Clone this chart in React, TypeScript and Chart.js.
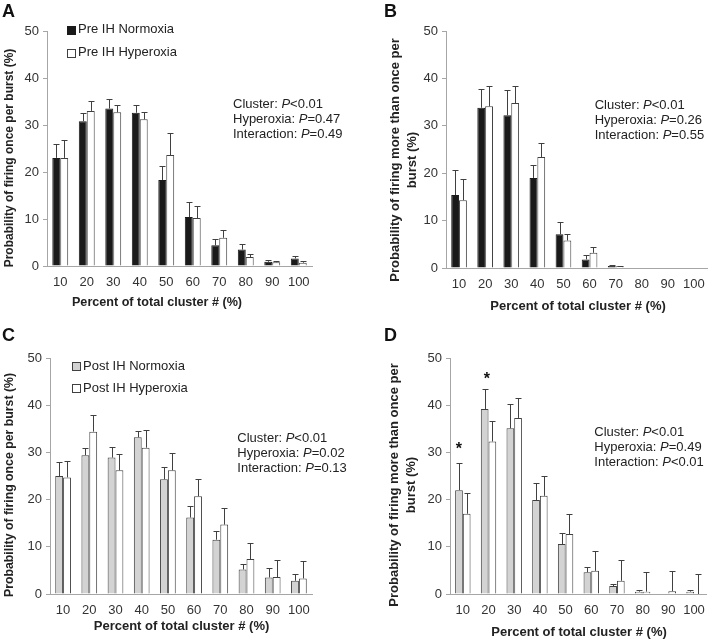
import React, { useEffect, useRef } from "react";
import { Chart, registerables } from "chart.js";

Chart.register(...registerables);

// ---------- data ----------
const categories = ["10", "20", "30", "40", "50", "60", "70", "80", "90", "100"];

// Panel A: probability of firing once per burst (pre IH)
const aNormoxia = [23.0, 30.8, 33.5, 32.6, 18.3, 10.4, 4.4, 3.5, 0.9, 1.6];
const aNormoxiaErr = [3.0, 1.8, 2.1, 1.7, 3.0, 3.2, 1.3, 1.2, 0.4, 0.5];
const aHyperoxia = [23.0, 33.0, 32.7, 31.2, 23.6, 10.2, 6.0, 1.9, 0.8, 0.7];
const aHyperoxiaErr = [3.8, 2.1, 1.5, 1.6, 4.6, 2.5, 1.6, 0.6, 0.3, 0.4];

// Panel B: probability of firing more than once per burst (pre IH)
const bNormoxia = [15.4, 33.8, 32.2, 19.0, 7.1, 1.8, 0.4, 0, 0, 0];
const bNormoxiaErr = [5.2, 3.9, 5.3, 2.8, 2.7, 0.9, 0.2, 0, 0, 0];
const bHyperoxia = [14.3, 34.1, 34.8, 23.4, 5.8, 3.2, 0.35, 0, 0, 0];
const bHyperoxiaErr = [4.4, 4.4, 3.7, 2.9, 1.3, 1.2, 0.15, 0, 0, 0];

// Panel C: probability of firing once per burst (post IH)
const cNormoxia = [25.0, 29.4, 28.9, 33.2, 24.3, 16.2, 11.5, 5.2, 3.5, 2.8];
const cNormoxiaErr = [2.9, 1.6, 2.2, 1.3, 2.6, 2.5, 1.9, 1.2, 2.0, 1.4];
const cHyperoxia = [24.7, 34.4, 26.2, 31.0, 26.2, 20.7, 14.7, 7.4, 3.6, 3.3];
const cHyperoxiaErr = [3.4, 3.5, 3.5, 3.7, 3.6, 3.6, 3.6, 3.5, 3.6, 3.6];

// Panel D: probability of firing more than once per burst (post IH)
const dNormoxia = [22.0, 39.2, 35.1, 19.9, 10.6, 4.6, 1.7, 0.5, 0, 0.5];
const dNormoxiaErr = [5.7, 4.3, 5.1, 3.6, 2.3, 1.1, 0.5, 0.3, 0, 0.3];
const dHyperoxia = [17.0, 32.3, 37.3, 20.8, 12.7, 4.9, 2.8, 0.5, 0.6, 0];
const dHyperoxiaErr = [4.3, 4.4, 4.2, 4.3, 4.2, 4.3, 4.3, 4.2, 4.3, 4.3];
const dAsteriskIndex = [0, 1];
const dAsteriskValue = [31.2, 46.1];

const yTicks = [0, 10, 20, 30, 40, 50];
const statLabels = ["Cluster: ", "Hyperoxia: ", "Interaction: "];
const statsA = ["<0.01", "=0.47", "=0.49"];
const statsB = ["<0.01", "=0.26", "=0.55"];
const statsC = ["<0.01", "=0.02", "=0.13"];
const statsD = ["<0.01", "=0.49", "<0.01"];

const xTitle = "Percent of total cluster # (%)";
const yTitleOnce = ["Probability of firing once per burst (%)"];
const yTitleMore = ["Probability of firing more than once per", "burst (%)"];

// ---------- styles ----------
const FONT = '"Liberation Sans", Arial, Helvetica, sans-serif';
const TEXT = "#222222";
const AXIS = "#a6a6a6";
const EDGE = "#404040";
const BLACK = "#1a1a1a";
const GRAY = "#d3d3d3";

type Panel = {
  letter: string;
  cx: number; cy: number; w: number; h: number;
  area: { l: number; t: number; r: number; b: number };
  series: { label: string; data: number[]; err: number[]; fill: string; border: string }[];
  legend: { x: number; y: number; dy: number } | null;
  stats: string[];
  statsPos: { x: number; y: number };
  yTitle: string[];
  yTitlePos: { x: number; y: number; dx: number; size: number };
  xTitlePos: { x: number; y: number; size: number };
  letterPos: { x: number; y: number };
  asterisks?: { idx: number[]; val: number[]; dx: number[] };
};

const panels: Panel[] = [
  {
    letter: "A", cx: 0, cy: 0, w: 357, h: 320,
    area: { l: 47, t: 31, r: 312, b: 266 },
    series: [
      { label: "Pre IH Normoxia", data: aNormoxia, err: aNormoxiaErr, fill: BLACK, border: BLACK },
      { label: "Pre IH Hyperoxia", data: aHyperoxia, err: aHyperoxiaErr, fill: "#ffffff", border: EDGE },
    ],
    legend: { x: 67, y: 29.7, dy: 23 },
    stats: statsA, statsPos: { x: 233, y: 104 },
    yTitle: yTitleOnce, yTitlePos: { x: 10, y: 158, dx: 17, size: 12 },
    xTitlePos: { x: 157, y: 303, size: 12.6 },
    letterPos: { x: 2, y: 12 },
  },
  {
    letter: "B", cx: 357, cy: 0, w: 357, h: 320,
    area: { l: 89, t: 31, r: 353, b: 268 },
    series: [
      { label: "Pre IH Normoxia", data: bNormoxia, err: bNormoxiaErr, fill: BLACK, border: BLACK },
      { label: "Pre IH Hyperoxia", data: bHyperoxia, err: bHyperoxiaErr, fill: "#ffffff", border: EDGE },
    ],
    legend: null,
    stats: statsB, statsPos: { x: 237.7, y: 105.7 },
    yTitle: yTitleMore, yTitlePos: { x: 38, y: 160, dx: 17, size: 13 },
    xTitlePos: { x: 221, y: 306, size: 13 },
    letterPos: { x: 27, y: 12 },
  },
  {
    letter: "C", cx: 0, cy: 320, w: 357, h: 320,
    area: { l: 50, t: 38, r: 312, b: 274 },
    series: [
      { label: "Post IH Normoxia", data: cNormoxia, err: cNormoxiaErr, fill: GRAY, border: EDGE },
      { label: "Post IH Hyperoxia", data: cHyperoxia, err: cHyperoxiaErr, fill: "#ffffff", border: EDGE },
    ],
    legend: { x: 72, y: 46.3, dy: 22 },
    stats: statsC, statsPos: { x: 237.3, y: 118.3 },
    yTitle: yTitleOnce, yTitlePos: { x: 10, y: 165, dx: 17, size: 12.3 },
    xTitlePos: { x: 181.5, y: 306, size: 13 },
    letterPos: { x: 2, y: 16.5 },
  },
  {
    letter: "D", cx: 357, cy: 320, w: 357, h: 320,
    area: { l: 93, t: 38, r: 354, b: 274 },
    series: [
      { label: "Post IH Normoxia", data: dNormoxia, err: dNormoxiaErr, fill: GRAY, border: EDGE },
      { label: "Post IH Hyperoxia", data: dHyperoxia, err: dHyperoxiaErr, fill: "#ffffff", border: EDGE },
    ],
    legend: null,
    stats: statsD, statsPos: { x: 237.3, y: 112.7 },
    yTitle: yTitleMore, yTitlePos: { x: 37.7, y: 165, dx: 17, size: 13 },
    xTitlePos: { x: 222, y: 312, size: 13 },
    letterPos: { x: 27, y: 16.5 },
    asterisks: { idx: dAsteriskIndex, val: dAsteriskValue, dx: [-4, -1.7] },
  },
];

function drawStatLine(ctx: CanvasRenderingContext2D, x: number, y: number, label: string, stat: string) {
  ctx.textBaseline = "middle";
  ctx.textAlign = "left";
  ctx.fillStyle = TEXT;
  ctx.font = `13px ${FONT}`;
  ctx.fillText(label, x, y);
  let cx = x + ctx.measureText(label).width;
  ctx.font = `italic 13px ${FONT}`;
  ctx.fillText("P", cx, y);
  cx += ctx.measureText("P").width;
  ctx.font = `13px ${FONT}`;
  ctx.fillText(stat, cx, y);
}

function makeOverlay(p: Panel) {
  return {
    id: "overlay" + p.letter,
    afterDatasetsDraw(chart: any) {
      const ctx: CanvasRenderingContext2D = chart.ctx;
      const yScale = chart.scales.y;
      ctx.save();
      ctx.strokeStyle = EDGE;
      ctx.lineWidth = 1;
      p.series.forEach((s, i) => {
        const meta = chart.getDatasetMeta(i);
        meta.data.forEach((el: any, j: number) => {
          const e = s.err[j];
          if (!e) return;
          const x = Math.round(el.x) + 0.5;
          const yTop = Math.round(yScale.getPixelForValue(s.data[j] + e)) + 0.5;
          const yBar = el.y;
          ctx.beginPath();
          ctx.moveTo(x, yBar);
          ctx.lineTo(x, yTop);
          ctx.moveTo(x - 3, yTop);
          ctx.lineTo(x + 3, yTop);
          ctx.stroke();
        });
      });
      ctx.restore();
    },
    afterDraw(chart: any) {
      const ctx: CanvasRenderingContext2D = chart.ctx;
      ctx.save();
      // panel letter
      ctx.fillStyle = "#111";
      ctx.font = `bold 18px ${FONT}`;
      ctx.textBaseline = "middle";
      ctx.textAlign = "left";
      ctx.fillText(p.letter, p.letterPos.x, p.letterPos.y);

      // legend
      if (p.legend) {
        p.series.forEach((s, i) => {
          const y = p.legend!.y + i * p.legend!.dy;
          ctx.fillStyle = s.fill;
          ctx.fillRect(p.legend!.x, Math.round(y - 4), 9, 9);
          ctx.strokeStyle = s.border;
          ctx.lineWidth = 1;
          ctx.strokeRect(p.legend!.x + 0.5, Math.round(y - 4) + 0.5, 8, 8);
          ctx.fillStyle = TEXT;
          ctx.font = `13px ${FONT}`;
          ctx.textBaseline = "middle";
          ctx.fillText(s.label, p.legend!.x + 11, y);
        });
      }

      // stats
      p.stats.forEach((st, i) => {
        drawStatLine(ctx, p.statsPos.x, p.statsPos.y + i * 15, statLabels[i], st);
      });

      // x title
      ctx.fillStyle = TEXT;
      ctx.font = `bold ${p.xTitlePos.size}px ${FONT}`;
      ctx.textAlign = "center";
      ctx.textBaseline = "middle";
      ctx.fillText(xTitle, p.xTitlePos.x, p.xTitlePos.y);

      // y title
      ctx.font = `bold ${p.yTitlePos.size}px ${FONT}`;
      p.yTitle.forEach((line, i) => {
        ctx.save();
        ctx.translate(p.yTitlePos.x + i * p.yTitlePos.dx, p.yTitlePos.y);
        ctx.rotate(-Math.PI / 2);
        ctx.textAlign = "center";
        ctx.textBaseline = "middle";
        ctx.fillText(line, 0, 0);
        ctx.restore();
      });

      // asterisks
      if (p.asterisks) {
        const xs = chart.scales.x;
        const ys = chart.scales.y;
        ctx.font = `bold 16px ${FONT}`;
        ctx.fillStyle = "#111";
        ctx.textAlign = "center";
        ctx.textBaseline = "middle";
        p.asterisks.idx.forEach((idx, k) => {
          const x = xs.getPixelForValue(idx) + p.asterisks!.dx[k];
          const y = ys.getPixelForValue(p.asterisks!.val[k]);
          ctx.fillText("*", x, y + 3);
        });
      }
      ctx.restore();
    },
  };
}

function PanelChart({ p }: { p: Panel }) {
  const ref = useRef<HTMLCanvasElement | null>(null);
  useEffect(() => {
    if (!ref.current) return;
    const chart = new Chart(ref.current, {
      type: "bar",
      data: {
        labels: categories,
        datasets: p.series.map((s) => ({
          label: s.label,
          data: s.data,
          backgroundColor: s.fill,
          borderColor: s.border,
          borderWidth: 1,
          categoryPercentage: 0.6,
          barPercentage: 1.0,
        })),
      },
      options: {
        responsive: false,
        animation: false,
        devicePixelRatio: 1,
        events: [],
        layout: { padding: { top: p.area.t, right: p.w - p.area.r, left: 0, bottom: 0 } },
        plugins: { legend: { display: false }, tooltip: { enabled: false } },
        scales: {
          x: {
            grid: { display: false, drawTicks: false },
            border: { display: true, color: AXIS, width: 1 },
            ticks: { color: "#333", font: { size: 13, family: FONT }, padding: 9, maxRotation: 0, autoSkip: false },
            afterFit: (s: any) => { s.height = p.h - p.area.b; },
          },
          y: {
            min: 0,
            max: 50,
            grid: { drawOnChartArea: false, drawTicks: true, tickLength: 4, color: AXIS },
            border: { display: true, color: AXIS, width: 1 },
            afterBuildTicks: (s: any) => { s.ticks = yTicks.map((v) => ({ value: v })); },
            ticks: { color: "#333", font: { size: 13, family: FONT }, padding: 4 },
            afterFit: (s: any) => { s.width = p.area.l; },
          },
        },
      } as any,
      plugins: [makeOverlay(p)],
    });
    return () => chart.destroy();
  }, [p]);
  return (
    <canvas
      ref={ref}
      width={p.w}
      height={p.h}
      style={{ position: "absolute", left: p.cx, top: p.cy, width: p.w, height: p.h, display: "block" }}
    />
  );
}

export default function App() {
  useEffect(() => {
    document.body.style.margin = "0";
    document.body.style.background = "#ffffff";
  }, []);
  return (
    <div style={{ position: "relative", width: 714, height: 640, background: "#fff", overflow: "hidden" }}>
      {panels.map((p) => (
        <PanelChart key={p.letter} p={p} />
      ))}
    </div>
  );
}
